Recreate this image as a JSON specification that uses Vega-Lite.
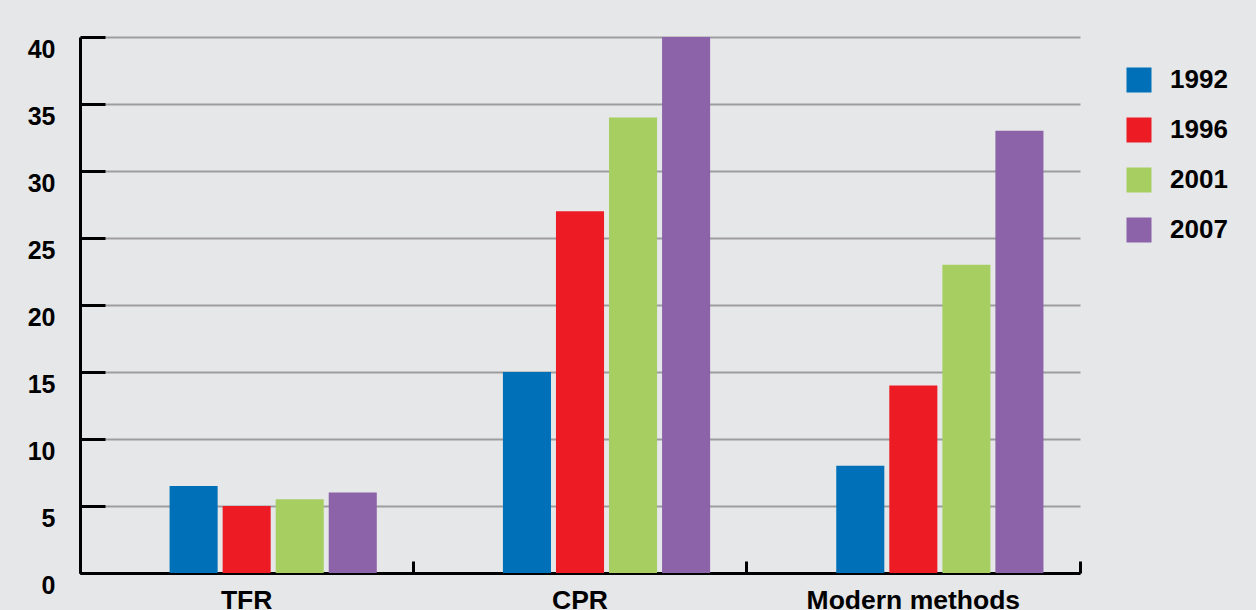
{
  "$schema": "https://vega.github.io/schema/vega-lite/v6.json",
  "autosize": {"type": "none"},
  "width": 1000,
  "height": 536,
  "padding": {"left": 80, "top": 37, "right": 176, "bottom": 37},
  "background": "#e6e7e9",
  "data": {
    "values": [
      {"indicator": "TFR", "year": "1992", "value": 6.5},
      {"indicator": "TFR", "year": "1996", "value": 5.0},
      {"indicator": "TFR", "year": "2001", "value": 5.5},
      {"indicator": "TFR", "year": "2007", "value": 6.0},
      {"indicator": "CPR", "year": "1992", "value": 15.0},
      {"indicator": "CPR", "year": "1996", "value": 27.0},
      {"indicator": "CPR", "year": "2001", "value": 34.0},
      {"indicator": "CPR", "year": "2007", "value": 40.0},
      {"indicator": "Modern methods", "year": "1992", "value": 8.0},
      {"indicator": "Modern methods", "year": "1996", "value": 14.0},
      {"indicator": "Modern methods", "year": "2001", "value": 23.0},
      {"indicator": "Modern methods", "year": "2007", "value": 33.0}
    ]
  },
  "mark": {"type": "bar"},
  "encoding": {
    "x": {
      "field": "indicator",
      "type": "nominal",
      "sort": ["TFR", "CPR", "Modern methods"],
      "scale": {"paddingInner": 0, "paddingOuter": 0},
      "axis": {
        "title": null,
        "labelAngle": 0,
        "labelFont": "Liberation Sans",
        "labelFontWeight": "bold",
        "labelFontSize": 26.5,
        "labelColor": "#000000",
        "labelBaseline": "top",
        "labelPadding": 26,
        "labelLimit": 400,
        "domainColor": "#000000",
        "domainWidth": 3,
        "tickColor": "#000000",
        "tickWidth": 3,
        "tickSize": -12,
        "bandPosition": 1,
        "tickExtra": true,
        "grid": false
      }
    },
    "xOffset": {
      "field": "year",
      "type": "nominal",
      "scale": {
        "domain": ["gap", "1992", "1996", "2001", "2007"],
        "paddingInner": 0.094,
        "paddingOuter": 0.689,
        "align": 0.5
      }
    },
    "y": {
      "field": "value",
      "type": "quantitative",
      "scale": {"domain": [0, 40], "nice": false},
      "axis": {
        "title": null,
        "values": [0, 5, 10, 15, 20, 25, 30, 35, 40],
        "labelFont": "Liberation Sans",
        "labelFontWeight": "bold",
        "labelFontSize": 25,
        "labelColor": "#000000",
        "labelBaseline": "top",
        "labelPadding": 50,
        "domainColor": "#000000",
        "domainWidth": 3,
        "tickColor": "#000000",
        "tickWidth": 3,
        "tickSize": -25,
        "grid": true,
        "gridColor": "#9d9d9f",
        "gridWidth": 2
      }
    },
    "color": {
      "field": "year",
      "type": "nominal",
      "scale": {
        "domain": ["1992", "1996", "2001", "2007"],
        "range": ["#0070b9", "#ed1c24", "#a6ce61", "#8c63a9"]
      },
      "legend": {
        "title": null,
        "orient": "none",
        "legendX": 1046,
        "legendY": 30,
        "symbolType": "square",
        "symbolSize": 625,
        "symbolStrokeWidth": 0,
        "symbolOpacity": 1,
        "labelFont": "Liberation Sans",
        "labelFontWeight": "bold",
        "labelFontSize": 26,
        "labelColor": "#000000",
        "labelOffset": 18,
        "rowPadding": 24
      }
    }
  },
  "config": {
    "view": {"stroke": null},
    "axis": {"gridDash": []}
  }
}
